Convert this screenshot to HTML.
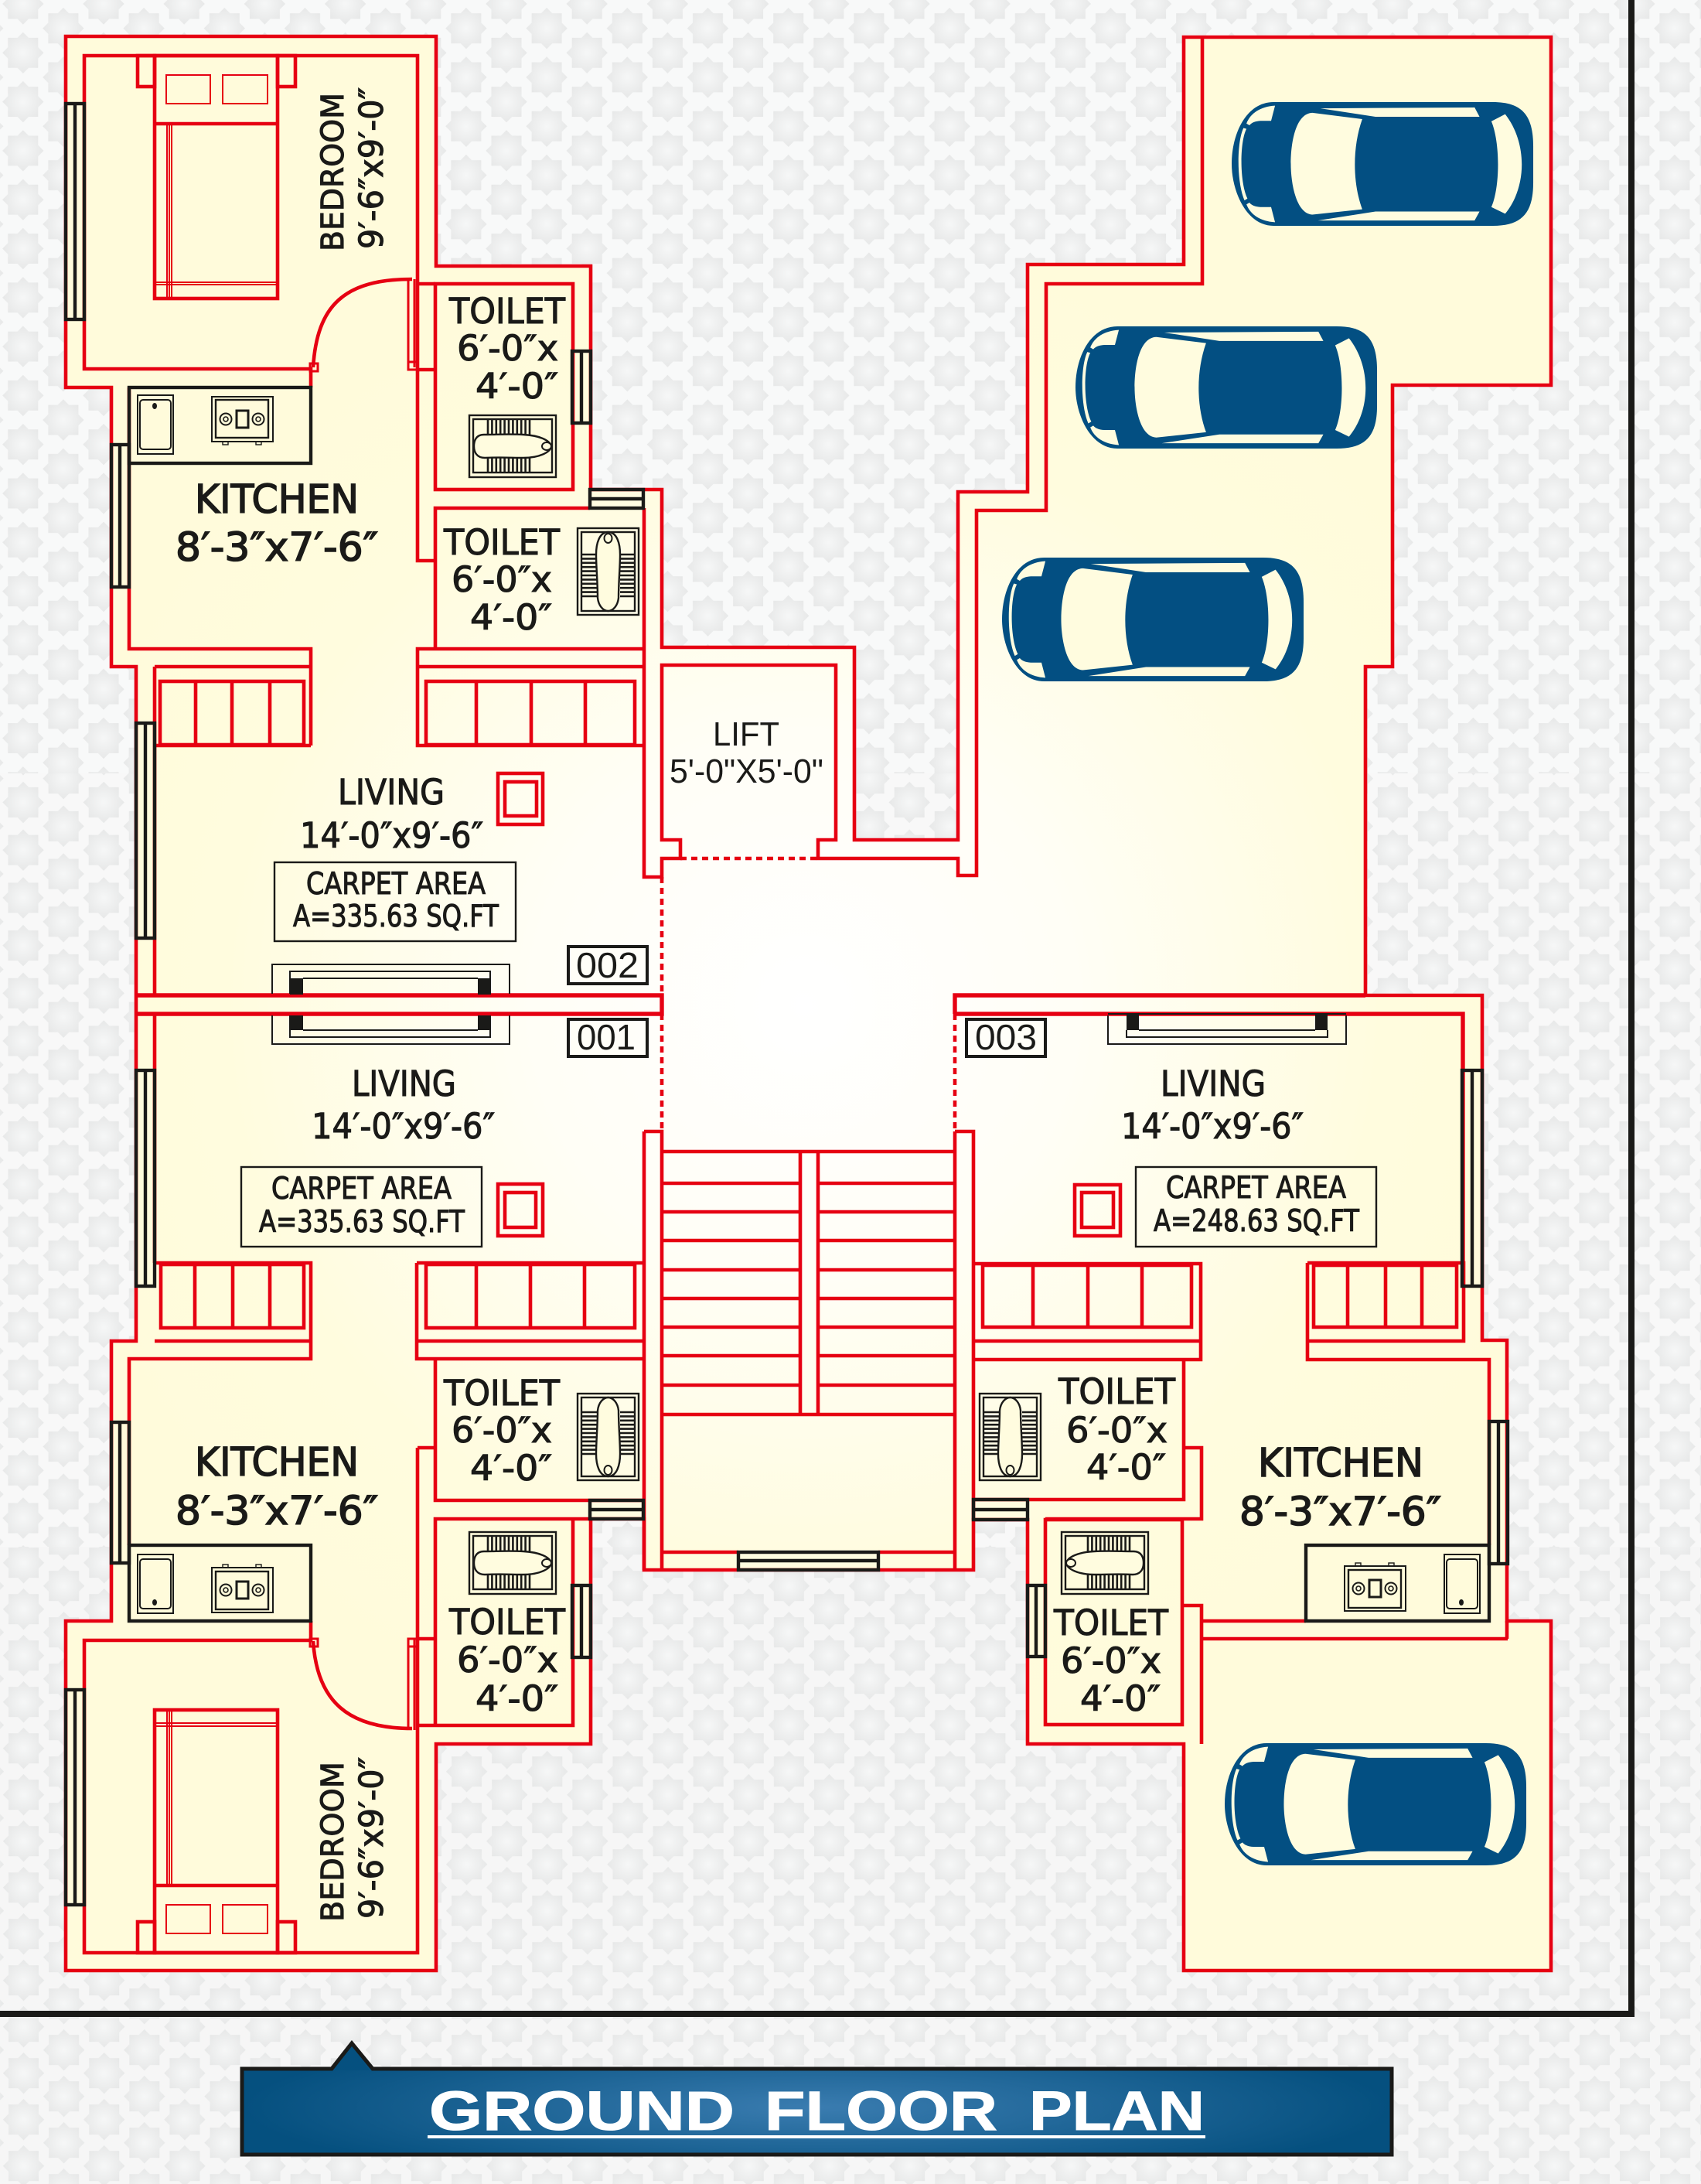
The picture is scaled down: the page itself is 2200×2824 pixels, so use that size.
<!DOCTYPE html>
<html><head><meta charset="utf-8"><title>Ground Floor Plan</title>
<style>html,body{margin:0;padding:0;background:#f8f9f9}svg{display:block}
.r{fill:none;stroke:#e60012;stroke-width:4.6;stroke-linejoin:miter}
.d{fill:none;stroke:#e60012;stroke-width:4.6;stroke-dasharray:8 6}
.k{fill:none;stroke:#1a1a18;stroke-width:3}
.t{font-family:"DejaVu Sans",sans-serif;fill:#1a1a18;stroke:#1a1a18;stroke-width:1.1}
.l{font-family:"Liberation Sans",sans-serif;fill:#1a1a18}
</style></head><body>
<svg xmlns="http://www.w3.org/2000/svg" width="2200" height="2824" viewBox="0 0 2200 2824">
<defs>
<radialGradient id="sg"><stop offset="0" stop-color="#f6f7f7"/><stop offset="1" stop-color="#e7e8e8"/></radialGradient>
<polygon id="st" fill="url(#sg)" points="0,-26.7 7.2,-19.5 19.5,-19.5 19.5,-7.2 26.7,0 19.5,7.2 19.5,19.5 7.2,19.5 0,26.7 -7.2,19.5 -19.5,19.5 -19.5,7.2 -26.7,0 -19.5,-7.2 -19.5,-19.5 -7.2,-19.5"/>
<pattern id="bg" patternUnits="userSpaceOnUse" x="29.8" y="5" width="104.2" height="63.3">
<rect width="104.2" height="63.3" fill="#f8f9f9"/>
<use href="#st" x="0" y="0"/><use href="#st" x="104.2" y="0"/><use href="#st" x="0" y="63.3"/><use href="#st" x="104.2" y="63.3"/><use href="#st" x="52.1" y="31.65"/>
</pattern>
<pattern id="bg2" patternUnits="userSpaceOnUse" x="30" y="50.3" width="104.2" height="61.7">
<rect width="104.2" height="61.7" fill="#f8f8f8"/>
<use href="#st" x="0" y="0"/><use href="#st" x="104.2" y="0"/><use href="#st" x="0" y="61.7"/><use href="#st" x="104.2" y="61.7"/><use href="#st" x="52.1" y="30.85"/>
</pattern>
<pattern id="bg3" patternUnits="userSpaceOnUse" x="30.5" y="40.7" width="104.2" height="60">
<rect width="104.2" height="60" fill="#f6f6f6"/>
<use href="#st" x="0" y="0"/><use href="#st" x="104.2" y="0"/><use href="#st" x="0" y="60"/><use href="#st" x="104.2" y="60"/><use href="#st" x="52.1" y="30"/>
</pattern>
<radialGradient id="fl" gradientUnits="userSpaceOnUse" cx="1040" cy="1300" r="1000"><stop offset="0" stop-color="#ffffff"/><stop offset=".35" stop-color="#fffef6"/><stop offset=".75" stop-color="#fffcde"/><stop offset="1" stop-color="#fffbdb"/></radialGradient>
<radialGradient id="ti" gradientUnits="userSpaceOnUse" cx="1056" cy="2725" r="740" gradientTransform="translate(0 2725) scale(1 .14) translate(0 -2725)"><stop offset="0" stop-color="#3a7cb0"/><stop offset="1" stop-color="#05507f"/></radialGradient>

<g id="car">
<path fill="#034f82" d="M85,0L530,0C590,0 612,30 612,100L612,180C612,247 590,277 530,277L85,277C30,277 0,200 0,138C0,70 30,0 85,0Z"/>
<g fill="#fffcdf">
<path d="M164,24L265,38C245,100 245,180 265,240L164,252C130,250 120,180 120,138C120,90 130,25 164,24Z"/>
<path d="M180,14L493,12L503,33L292,33Z"/>
<path d="M175,265L493,265L503,245L292,245Z"/>
<path d="M527,43L555,27C600,90 600,190 555,250L527,235C545,190 545,90 527,43Z"/>
<path d="M88,8C58,10 38,25 30,48L36,52C42,44 52,42 62,42L80,42Z"/>
<path d="M88,269C58,267 38,252 30,229L36,225C42,233 52,235 62,235L80,235Z"/>
<path d="M24,58L30,60C16,90 16,180 32,216L26,220C10,180 10,90 24,58Z"/>
</g>
</g>

<g id="tH">
<rect x="0" y="0" width="112" height="80" fill="none" stroke="#1a1a18" stroke-width="2.4"/>
<rect x="5" y="5" width="102" height="69" fill="none" stroke="#1a1a18" stroke-width="2.4"/>
<path fill="none" stroke="#1a1a18" stroke-width="2.6" d="M24,6V25M29.4,6V25M34.8,6V25M40.2,6V25M45.6,6V25M51,6V25M56.4,6V25M61.8,6V25M67.2,6V25M72.6,6V25M78,6V25M24,55V73M29.4,55V73M34.8,55V73M40.2,55V73M45.6,55V73M51,55V73M56.4,55V73M61.8,55V73M67.2,55V73M72.6,55V73M78,55V73"/>
<path fill="#fffcdf" stroke="#1a1a18" stroke-width="2.4" d="M19,25C8,25 6,34 6,40C6,48 10,55 20,55C40,54 55,55 70,55C90,55 105,48 106,40C104,32 90,26 70,25C50,24 35,25 19,25Z"/>
<ellipse cx="100" cy="40" rx="6" ry="5" fill="#fffcdf" stroke="#1a1a18" stroke-width="2"/>
</g>
<g id="tV">
<rect x="0" y="0" width="79" height="112" fill="none" stroke="#1a1a18" stroke-width="2.4"/>
<rect x="5" y="5" width="69" height="102" fill="none" stroke="#1a1a18" stroke-width="2.4"/>
<path fill="none" stroke="#1a1a18" stroke-width="2.6" d="M6,34H25M6,39.4H25M6,44.8H25M6,50.2H25M6,55.6H25M6,61H25M6,66.4H25M6,71.8H25M6,77.2H25M6,82.6H25M6,88H25M55,34H73M55,39.4H73M55,44.8H73M55,50.2H73M55,55.6H73M55,61H73M55,66.4H73M55,71.8H73M55,77.2H73M55,82.6H73M55,88H73"/>
<path fill="#fffcdf" stroke="#1a1a18" stroke-width="2.4" d="M39.5,5C28,5 24,20 24,34C24,50 26,70 26,90C27,100 33,107 39.5,107C46,107 52,100 53,90C53,70 55,50 55,34C55,20 51,5 39.5,5Z"/>
<ellipse cx="39.5" cy="13" rx="5" ry="6" fill="#fffcdf" stroke="#1a1a18" stroke-width="2"/>
</g>
<g id="sink">
<rect x="0" y="0" width="46" height="76" fill="none" stroke="#1a1a18" stroke-width="2"/>
<rect x="3" y="6" width="40" height="64" rx="4" fill="none" stroke="#1a1a18" stroke-width="2"/>
<ellipse cx="22" cy="14" rx="3" ry="4" fill="#1a1a18"/>
</g>
<g id="stove">
<rect x="0" y="0" width="79" height="58" fill="none" stroke="#1a1a18" stroke-width="2"/>
<rect x="5" y="4" width="68" height="49" fill="none" stroke="#1a1a18" stroke-width="2.4"/>
<circle cx="18" cy="29" r="7.5" fill="none" stroke="#1a1a18" stroke-width="2"/><circle cx="18" cy="29" r="3" fill="none" stroke="#1a1a18" stroke-width="1.6"/>
<circle cx="60" cy="29" r="7.5" fill="none" stroke="#1a1a18" stroke-width="2"/><circle cx="60" cy="29" r="3" fill="none" stroke="#1a1a18" stroke-width="1.6"/>
<rect x="32" y="18" width="15" height="22" fill="none" stroke="#1a1a18" stroke-width="3"/>
<rect x="14" y="58" width="7" height="4" fill="none" stroke="#1a1a18" stroke-width="1.4"/><rect x="57" y="58" width="7" height="4" fill="none" stroke="#1a1a18" stroke-width="1.4"/>
</g>
</defs>

<rect width="2200" height="1000" fill="url(#bg)"/>
<rect y="1000" width="2200" height="1000" fill="url(#bg2)"/>
<rect y="2000" width="2200" height="824" fill="url(#bg3)"/>

<!-- black boundary -->
<path d="M2110,0V2604H0" fill="none" stroke="#1a1a18" stroke-width="8"/>

<!-- floor -->
<polygon fill="url(#fl)" points="85,47 564,47 564,344 764,344 764,633 856,633 856,837 1105,837 1105,1086 1239,1086 1239,636 1329,636 1329,342 1531,342 1531,48 2006,48 2006,498 1801,498 1801,862 1766,862 1766,1287 1917,1287 1917,1733 1949,1733 1949,2096 2006,2096 2006,2548 1531,2548 1531,2255 1329,2255 1329,1965 1259,1965 1259,2030 833,2030 833,1964 764,1964 764,2255 564,2255 564,2548 85,2548 85,2096 144,2096 144,1734 176,1734 176,862 144,862 144,501 85,501"/>
<polygon class="r" points="85,47 564,47 564,344 764,344 764,633 856,633 856,837 1105,837 1105,1086 1239,1086 1239,636 1329,636 1329,342 1531,342 1531,48 2006,48 2006,498 1801,498 1801,862 1766,862 1766,1287 1917,1287 1917,1733 1949,1733 1949,2096 2006,2096 2006,2548 1531,2548 1531,2255 1329,2255 1329,1965 1259,1965 1259,2030 833,2030 833,1964 764,1964 764,2255 564,2255 564,2548 85,2548 85,2096 144,2096 144,1734 176,1734 176,862 144,862 144,501 85,501"/>

<g class="r">
<!-- top-left unit -->
<path d="M402,501V477H109V72H540V725H563M540,367H563M540,478H563M540,862V839H832"/>
<rect x="563" y="367" width="178" height="266"/>
<path d="M563,839V657H763"/>
<path d="M833,657V1134H856V1110H880V1086H856V860H1081V1086H1058V1110H1239V1132H1263V660H1353V367H1555V48"/>
<path d="M167,501V839H402V964M200,862H402M200,862V1287"/>
<path d="M200,964H402M540,862H833M540,862V964H833"/>
<rect x="207" y="881" width="186" height="82"/><path d="M253,881V963M300,881V963M349,881V963"/>
<rect x="551" y="881" width="270" height="82"/><path d="M616,881V963M687,881V963M757,881V963"/>
<!-- band -->
<path style="stroke-width:5.4" d="M176,1287H856V1311H176"/>
<path style="stroke-width:5.4" d="M1235,1311V1287H1766M1235,1311H1892V1633"/>
<path d="M200,1311V1633"/>
<!-- pillars -->
<rect x="644" y="1000" width="58" height="66"/><rect x="653" y="1011" width="41" height="44"/>
<rect x="644" y="1531" width="58" height="67"/><rect x="653" y="1542" width="40" height="45"/>
<rect x="1390" y="1532" width="59" height="66"/><rect x="1399" y="1542" width="41" height="45"/>
<!-- lower-left unit -->
<path d="M200,1633H402V1757H167V1998M200,1734H402"/>
<rect x="208" y="1635" width="185" height="82"/><path d="M252,1635V1717M301,1635V1717M349,1635V1717"/>
<path d="M539,1633H833M539,1633V1757H832M539,1734H833"/>
<rect x="551" y="1635" width="270" height="82"/><path d="M616,1635V1717M686,1635V1717M756,1635V1717"/>
<path d="M563,1757V1940H832M540,1872H563"/>
<path d="M563,2231V1964H764"/><path d="M563,2231H741V1964M540,2231H563M540,2119H563"/>
<path d="M402,2096V2121H109V2525H540V1872"/>
<!-- stairs -->
<path d="M833,1463H856V2030M833,1463V2030M1235,1463H1259V1965M1235,1463V2030"/>
<path d="M856,1489H1235M856,1530H1035M1058,1530H1235M856,1567H1035M1058,1567H1235M856,1604H1035M1058,1604H1235M856,1642H1035M1058,1642H1235M856,1679H1035M1058,1679H1235M856,1716H1035M1058,1716H1235M856,1753H1035M1058,1753H1235M856,1791H1035M1058,1791H1235M856,1829H1235M1035,1489V1829M1058,1489V1829M856,2007H955M1136,2007H1235"/>
<!-- right unit -->
<path d="M1259,1634H1553V1758H1259M1259,1734H1553"/>
<rect x="1271" y="1636" width="270" height="80"/><path d="M1336,1636V1716M1407,1636V1716M1477,1636V1716"/>
<path d="M1531,1758V1939H1259M1531,1872H1554V1964H1352"/>
<rect x="1352" y="1965" width="177" height="265"/>
<path d="M1531,2076H1554V2255M1554,2096H1689M1554,2119H1950M1949,2096V2119"/>
<path d="M1691,1633H1893V1734H1691V1758H1926V1998M1691,1633V1734"/>
<rect x="1699" y="1636" width="185" height="80"/><path d="M1743,1636V1716M1792,1636V1716M1839,1636V1716"/>
<!-- beds -->
<rect x="200" y="72" width="159" height="314"/><path d="M200,160H359"/>
<rect x="178" y="72" width="22" height="40"/><rect x="359" y="72" width="23" height="40"/>
<rect x="200" y="2211" width="159" height="314"/><path d="M200,2438H359"/>
<rect x="178" y="2485" width="22" height="40"/><rect x="359" y="2485" width="23" height="40"/>
<!-- doors -->
<path d="M405,475C410,395 445,361 533,361"/>
<path d="M405,2122C410,2200 450,2235 533,2235"/>
</g>
<g fill="none" stroke="#e60012" stroke-width="2">
<rect x="215" y="97" width="57" height="37"/><rect x="288" y="97" width="58" height="37"/>
<rect x="215" y="2463" width="57" height="37"/><rect x="288" y="2463" width="58" height="37"/>
<path d="M216,160V386M219,160V386M222,160V386M200,365H359M200,368H359"/>
<path d="M216,2211V2438M219,2211V2438M222,2211V2438M200,2228H359M200,2232H359"/>
<path stroke-width="3" d="M528,361V475M536,361V475M528,2119V2237M536,2119V2237"/>
<rect x="401" y="470" width="10" height="10" stroke-width="3"/><rect x="528" y="468" width="12" height="10" stroke-width="3"/>
<rect x="401" y="2119" width="10" height="10" stroke-width="3"/><rect x="528" y="2119" width="12" height="10" stroke-width="3"/>
</g>
<path class="d" d="M880,1110H1058M856,1134V1287M856,1311V1463M1235,1311V1463"/>

<!-- windows -->
<g class="k" fill="#fffcdf" style="stroke-width:4.4">
<rect x="85" y="134" width="24" height="279"/><path d="M97,134V413"/>
<rect x="144" y="575" width="23" height="184"/><path d="M155,575V759"/>
<rect x="740" y="454" width="24" height="93"/><path d="M752,454V547"/>
<rect x="176" y="935" width="24" height="278"/><path d="M188,935V1213"/>
<rect x="176" y="1384" width="24" height="279"/><path d="M188,1384V1663"/>
<rect x="1891" y="1384" width="26" height="279"/><path d="M1904,1384V1663"/>
<rect x="85" y="2185" width="24" height="278"/><path d="M97,2185V2463"/>
<rect x="144" y="1839" width="23" height="182"/><path d="M155,1839V2021"/>
<rect x="740" y="2050" width="24" height="93"/><path d="M752,2050V2143"/>
<rect x="1926" y="1838" width="24" height="184"/><path d="M1938,1838V2022"/>
<rect x="1329" y="2050" width="23" height="92"/><path d="M1340,2050V2142"/>
<rect x="763" y="633" width="69" height="24"/><path d="M763,645H832"/>
<rect x="763" y="1940" width="69" height="24"/><path d="M763,1952H832"/>
<rect x="1259" y="1939" width="70" height="26"/><path d="M1259,1952H1329"/>
<rect x="955" y="2007" width="181" height="23"/><path d="M955,2018H1136"/>
</g>

<!-- kitchen counters -->
<g fill="none" stroke="#1a1a18" stroke-width="4.4">
<rect x="167" y="501" width="235" height="98"/>
<rect x="167" y="1998" width="235" height="98"/>
<rect x="1689" y="1998" width="237" height="98"/>
</g>
<use href="#sink" transform="translate(178,511)"/>
<use href="#stove" transform="translate(274,513)"/>
<use href="#sink" transform="translate(178,2086) scale(1,-1)"/>
<use href="#stove" transform="translate(274,2085) scale(1,-1)"/>
<use href="#sink" transform="translate(1868,2086) scale(1,-1)"/>
<use href="#stove" transform="translate(1739,2083) scale(1,-1)"/>

<!-- toilets -->
<use href="#tH" x="607" y="537"/>
<use href="#tV" x="747" y="683"/>
<use href="#tV" transform="translate(747,1914) scale(1,-1)"/>
<use href="#tH" x="607" y="1981"/>
<use href="#tV" transform="translate(1267,1914) scale(1,-1)"/>
<use href="#tH" transform="translate(1485,1981) scale(-1,1)"/>

<!-- fixtures by band -->
<g fill="none" stroke="#1a1a18">
<path stroke-width="2" d="M352,1285V1247H659V1285M375,1285V1256H634V1285M392,1265H618"/>
<path stroke-width="2" d="M352,1313V1350H659V1313M375,1313V1341H634V1313M392,1332H618"/>
<path stroke-width="2" d="M1433,1313V1350H1741V1313M1457,1332V1341H1717V1332M1473,1332H1701M1433,1311H1741"/>
</g>
<g fill="#1a1a18">
<rect x="375" y="1265" width="17" height="21"/><rect x="618" y="1265" width="17" height="21"/>
<rect x="375" y="1313" width="17" height="19"/><rect x="618" y="1313" width="17" height="19"/>
<rect x="1457" y="1311" width="16" height="21"/><rect x="1701" y="1311" width="16" height="21"/>
</g>

<!-- boxes -->
<g fill="none" stroke="#1a1a18">
<rect x="355" y="1115" width="312" height="102" stroke-width="2.4"/>
<rect x="312" y="1509" width="311" height="103" stroke-width="2.4"/>
<rect x="1469" y="1509" width="311" height="103" stroke-width="2.4"/>
<rect x="735" y="1224" width="102" height="48" stroke-width="4"/>
<rect x="735" y="1318" width="102" height="48" stroke-width="4"/>
<rect x="1250" y="1318" width="102" height="48" stroke-width="4"/>
</g>

<!-- cars -->
<use href="#car" transform="translate(1593,132) scale(.6373,.5776)"/>
<use href="#car" transform="translate(1391,422) scale(.6373,.5704)"/>
<use href="#car" transform="translate(1296,721) scale(.6373,.5776)"/>
<use href="#car" transform="translate(1584,2254) scale(.6373,.5704)"/>

<!-- labels -->
<g class="t" font-size="45">
<text x="581" y="418" textLength="150" lengthAdjust="spacingAndGlyphs">TOILET</text>
<text x="591" y="466" textLength="131" lengthAdjust="spacingAndGlyphs">6′-0″x</text>
<text x="615" y="515" textLength="107" lengthAdjust="spacingAndGlyphs">4′-0″</text>
<text x="574" y="717" textLength="150" lengthAdjust="spacingAndGlyphs">TOILET</text>
<text x="584" y="765" textLength="130" lengthAdjust="spacingAndGlyphs">6′-0″x</text>
<text x="608" y="814" textLength="106" lengthAdjust="spacingAndGlyphs">4′-0″</text>
<text x="574" y="1817" textLength="150" lengthAdjust="spacingAndGlyphs">TOILET</text>
<text x="584" y="1865" textLength="130" lengthAdjust="spacingAndGlyphs">6′-0″x</text>
<text x="608" y="1914" textLength="106" lengthAdjust="spacingAndGlyphs">4′-0″</text>
<text x="581" y="2113" textLength="150" lengthAdjust="spacingAndGlyphs">TOILET</text>
<text x="591" y="2162" textLength="131" lengthAdjust="spacingAndGlyphs">6′-0″x</text>
<text x="615" y="2212" textLength="107" lengthAdjust="spacingAndGlyphs">4′-0″</text>
<text x="1369" y="1815" textLength="151" lengthAdjust="spacingAndGlyphs">TOILET</text>
<text x="1379" y="1865" textLength="131" lengthAdjust="spacingAndGlyphs">6′-0″x</text>
<text x="1405" y="1913" textLength="103" lengthAdjust="spacingAndGlyphs">4′-0″</text>
<text x="1363" y="2114" textLength="148" lengthAdjust="spacingAndGlyphs">TOILET</text>
<text x="1372" y="2163" textLength="130" lengthAdjust="spacingAndGlyphs">6′-0″x</text>
<text x="1397" y="2212" textLength="104" lengthAdjust="spacingAndGlyphs">4′-0″</text>
<text x="437" y="1040" textLength="138" lengthAdjust="spacingAndGlyphs">LIVING</text>
<text x="388" y="1096" textLength="237" lengthAdjust="spacingAndGlyphs">14′-0″x9′-6″</text>
<text x="455" y="1417" textLength="135" lengthAdjust="spacingAndGlyphs">LIVING</text>
<text x="403" y="1472" textLength="237" lengthAdjust="spacingAndGlyphs">14′-0″x9′-6″</text>
<text x="1501" y="1417" textLength="136" lengthAdjust="spacingAndGlyphs">LIVING</text>
<text x="1450" y="1472" textLength="236" lengthAdjust="spacingAndGlyphs">14′-0″x9′-6″</text>
</g>
<g class="t" font-size="51" style="stroke-width:1.6">
<text x="252" y="663" textLength="212" lengthAdjust="spacingAndGlyphs">KITCHEN</text>
<text x="227" y="725" textLength="262" lengthAdjust="spacingAndGlyphs">8′-3″x7′-6″</text>
<text x="252" y="1908" textLength="212" lengthAdjust="spacingAndGlyphs">KITCHEN</text>
<text x="227" y="1971" textLength="262" lengthAdjust="spacingAndGlyphs">8′-3″x7′-6″</text>
<text x="1627" y="1909" textLength="214" lengthAdjust="spacingAndGlyphs">KITCHEN</text>
<text x="1603" y="1972" textLength="261" lengthAdjust="spacingAndGlyphs">8′-3″x7′-6″</text>
</g>
<g class="t" font-size="39">
<text x="396" y="1156" textLength="232" lengthAdjust="spacingAndGlyphs">CARPET AREA</text>
<text x="379" y="1198" textLength="266" lengthAdjust="spacingAndGlyphs">A=335.63 SQ.FT</text>
<text x="351" y="1550" textLength="233" lengthAdjust="spacingAndGlyphs">CARPET AREA</text>
<text x="335" y="1593" textLength="266" lengthAdjust="spacingAndGlyphs">A=335.63 SQ.FT</text>
<text x="1508" y="1549" textLength="233" lengthAdjust="spacingAndGlyphs">CARPET AREA</text>
<text x="1492" y="1592" textLength="266" lengthAdjust="spacingAndGlyphs">A=248.63 SQ.FT</text>
</g>
<g class="t" font-size="40">
<text transform="translate(444,325) rotate(-90)" textLength="205" lengthAdjust="spacingAndGlyphs">BEDROOM</text>
<text transform="translate(444,2485) rotate(-90)" textLength="207" lengthAdjust="spacingAndGlyphs">BEDROOM</text>
</g>
<g class="t" font-size="43">
<text transform="translate(495,322) rotate(-90)" textLength="209" lengthAdjust="spacingAndGlyphs">9′-6″x9′-0″</text>
<text transform="translate(495,2481) rotate(-90)" textLength="209" lengthAdjust="spacingAndGlyphs">9′-6″x9′-0″</text>
</g>
<g class="l" font-size="46">
<text x="745" y="1264" textLength="81" lengthAdjust="spacingAndGlyphs">002</text>
<text x="746" y="1357" textLength="76" lengthAdjust="spacingAndGlyphs">001</text>
<text x="1261" y="1357" textLength="80" lengthAdjust="spacingAndGlyphs">003</text>
</g>
<g class="l" font-size="44">
<text x="922" y="964" textLength="86" lengthAdjust="spacingAndGlyphs">LIFT</text>
<text x="866" y="1012" textLength="199" lengthAdjust="spacingAndGlyphs">5'-0"X5'-0"</text>
</g>

<!-- title -->
<path d="M313,2675H429L455,2642L482,2675H1800V2786H313Z" fill="url(#ti)" stroke="#1a1a18" stroke-width="5" stroke-linejoin="miter"/>
<path d="M433,2677L455,2648L478,2677Z" fill="#05507f"/>
<g font-family="'Liberation Sans',sans-serif" font-weight="bold" font-size="71" fill="#fff" stroke="#fff" stroke-width="1">
<text x="555" y="2754" textLength="395" lengthAdjust="spacingAndGlyphs">GROUND</text>
<text x="989" y="2754" textLength="301" lengthAdjust="spacingAndGlyphs">FLOOR</text>
<text x="1331" y="2754" textLength="227" lengthAdjust="spacingAndGlyphs">PLAN</text>
</g>
<rect x="553" y="2761" width="1006" height="4" fill="#fff"/>
</svg>
</body></html>
